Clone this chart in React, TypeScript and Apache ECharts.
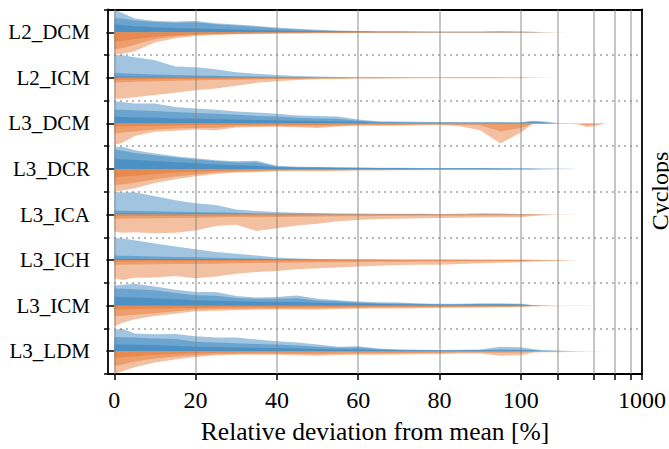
import React, { useEffect, useRef } from "react";
import * as echarts from "echarts";

// x sample positions (relative deviation from mean, %)
const XS = [0, 2, 5, 10, 15, 20, 25, 30, 35, 40, 45, 50, 55, 60, 65, 70, 75, 80, 85, 90, 95, 100, 125, 150, 200, 250, 300, 350, 400, 500];

const ROWS = ["L2_DCM", "L2_ICM", "L3_DCM", "L3_DCR", "L3_ICA", "L3_ICH", "L3_ICM", "L3_LDM"];

const X_LABELS = [0, 20, 40, 60, 80, 100, 1000];
const X_MINOR = [200, 400, 600, 800];
const GRID_X = [0, 20, 40, 60, 80, 100, 200, 400, 600, 800];

// heights in half-row units: [outer, middle, inner]
const L2_DCM_BLUE = [
  [1.0, 0.85, 0.6, 0.5, 0.47, 0.49, 0.4, 0.34, 0.28, 0.21, 0.15, 0.11, 0.08, 0.06, 0.05, 0.04, 0.035, 0.03, 0.03, 0.035, 0.045, 0.035, 0.02, 0.01, 0.005, 0, 0, 0, 0, 0],
  [0.62, 0.6, 0.52, 0.45, 0.42, 0.44, 0.35, 0.3, 0.24, 0.17, 0.12, 0.08, 0.06, 0.045, 0.035, 0.03, 0.025, 0.02, 0.02, 0.025, 0.03, 0.025, 0.012, 0.005, 0, 0, 0, 0, 0, 0],
  [0.35, 0.32, 0.27, 0.22, 0.19, 0.17, 0.14, 0.12, 0.1, 0.08, 0.06, 0.045, 0.035, 0.03, 0.025, 0.02, 0.018, 0.015, 0.015, 0.015, 0.015, 0.012, 0.008, 0.004, 0, 0, 0, 0, 0, 0],
];
const L2_DCM_ORANGE = [
  [0.97, 0.95, 0.83, 0.45, 0.26, 0.16, 0.12, 0.09, 0.075, 0.06, 0.05, 0.045, 0.04, 0.035, 0.03, 0.03, 0.025, 0.025, 0.02, 0.02, 0.02, 0.02, 0.015, 0.01, 0.008, 0.004, 0, 0, 0, 0],
  [0.75, 0.7, 0.55, 0.3, 0.19, 0.12, 0.09, 0.07, 0.055, 0.045, 0.04, 0.035, 0.03, 0.025, 0.02, 0.02, 0.018, 0.015, 0.015, 0.015, 0.015, 0.015, 0.01, 0.005, 0, 0, 0, 0, 0, 0],
  [0.42, 0.38, 0.3, 0.2, 0.13, 0.09, 0.065, 0.05, 0.04, 0.035, 0.03, 0.025, 0.02, 0.018, 0.015, 0.015, 0.012, 0.01, 0.01, 0.01, 0.01, 0.01, 0.005, 0, 0, 0, 0, 0, 0, 0],
];
const L2_ICM_BLUE = [
  [1.0, 0.99, 0.9, 0.77, 0.5, 0.47, 0.38, 0.25, 0.18, 0.12, 0.08, 0.055, 0.04, 0.03, 0.025, 0.02, 0.02, 0.015, 0.015, 0.015, 0.015, 0.012, 0.008, 0.005, 0, 0, 0, 0, 0, 0],
  [0.22, 0.2, 0.18, 0.15, 0.12, 0.1, 0.09, 0.07, 0.06, 0.05, 0.04, 0.03, 0.025, 0.02, 0.015, 0.015, 0.012, 0.01, 0.01, 0.01, 0.01, 0.008, 0.005, 0, 0, 0, 0, 0, 0, 0],
  [0.07, 0.07, 0.06, 0.06, 0.05, 0.05, 0.045, 0.04, 0.035, 0.03, 0.025, 0.02, 0.015, 0.012, 0.01, 0.01, 0.008, 0.006, 0.005, 0.005, 0.005, 0.004, 0, 0, 0, 0, 0, 0, 0, 0],
];
const L2_ICM_ORANGE = [
  [0.92, 0.92, 0.85, 0.75, 0.65, 0.55, 0.47, 0.35, 0.22, 0.15, 0.09, 0.05, 0.04, 0.03, 0.025, 0.02, 0.02, 0.02, 0.02, 0.02, 0.02, 0.015, 0.01, 0.005, 0, 0, 0, 0, 0, 0],
  [0.2, 0.19, 0.17, 0.15, 0.13, 0.11, 0.1, 0.08, 0.06, 0.05, 0.04, 0.03, 0.025, 0.02, 0.015, 0.015, 0.012, 0.01, 0.01, 0.01, 0.01, 0.008, 0.005, 0, 0, 0, 0, 0, 0, 0],
  [0.08, 0.08, 0.07, 0.06, 0.05, 0.05, 0.045, 0.04, 0.035, 0.03, 0.025, 0.02, 0.015, 0.012, 0.01, 0.01, 0.008, 0.006, 0.005, 0.005, 0.005, 0.004, 0, 0, 0, 0, 0, 0, 0, 0],
];
const L3_DCM_BLUE = [
  [0.97, 0.94, 0.87, 0.87, 0.72, 0.65, 0.6, 0.52, 0.48, 0.42, 0.35, 0.33, 0.3, 0.17, 0.09, 0.08, 0.07, 0.06, 0.055, 0.05, 0.05, 0.05, 0.12, 0.1, 0.02, 0.005, 0, 0, 0, 0],
  [0.6, 0.6, 0.58, 0.55, 0.5, 0.46, 0.42, 0.38, 0.33, 0.3, 0.25, 0.22, 0.2, 0.12, 0.06, 0.05, 0.045, 0.04, 0.035, 0.035, 0.035, 0.035, 0.08, 0.06, 0.01, 0, 0, 0, 0, 0],
  [0.3, 0.28, 0.27, 0.25, 0.22, 0.2, 0.18, 0.17, 0.15, 0.14, 0.12, 0.11, 0.09, 0.07, 0.04, 0.035, 0.03, 0.025, 0.025, 0.025, 0.025, 0.02, 0.04, 0.03, 0, 0, 0, 0, 0, 0],
];
const L3_DCM_ORANGE = [
  [0.95, 0.85, 0.55, 0.37, 0.32, 0.27, 0.3, 0.18, 0.16, 0.15, 0.17, 0.2, 0.14, 0.1, 0.11, 0.1, 0.08, 0.07, 0.12, 0.3, 0.88, 0.4, 0.03, 0.02, 0.01, 0.01, 0.05, 0.16, 0.12, 0],
  [0.45, 0.4, 0.35, 0.27, 0.22, 0.2, 0.2, 0.13, 0.12, 0.11, 0.12, 0.14, 0.1, 0.07, 0.07, 0.065, 0.06, 0.05, 0.07, 0.08, 0.35, 0.2, 0.015, 0.01, 0, 0, 0.02, 0.08, 0.05, 0],
  [0.15, 0.14, 0.13, 0.1, 0.09, 0.08, 0.08, 0.07, 0.06, 0.06, 0.06, 0.07, 0.05, 0.04, 0.04, 0.035, 0.03, 0.03, 0.03, 0.03, 0.04, 0.03, 0.01, 0, 0, 0, 0, 0, 0, 0],
];
const L3_DCR_BLUE = [
  [0.97, 0.98, 0.82, 0.68, 0.56, 0.47, 0.38, 0.34, 0.36, 0.14, 0.1, 0.09, 0.08, 0.06, 0.05, 0.05, 0.045, 0.04, 0.04, 0.04, 0.035, 0.03, 0.02, 0.015, 0.01, 0.005, 0, 0, 0, 0],
  [0.85, 0.8, 0.7, 0.6, 0.5, 0.42, 0.35, 0.28, 0.3, 0.11, 0.08, 0.07, 0.06, 0.05, 0.04, 0.04, 0.035, 0.03, 0.03, 0.03, 0.025, 0.02, 0.015, 0.01, 0.005, 0, 0, 0, 0, 0],
  [0.45, 0.42, 0.4, 0.35, 0.3, 0.25, 0.2, 0.16, 0.14, 0.08, 0.06, 0.05, 0.045, 0.04, 0.03, 0.03, 0.025, 0.02, 0.02, 0.02, 0.02, 0.015, 0.01, 0.005, 0, 0, 0, 0, 0, 0],
];
const L3_DCR_ORANGE = [
  [0.99, 0.95, 0.85, 0.62, 0.45, 0.32, 0.22, 0.16, 0.14, 0.1, 0.09, 0.1, 0.09, 0.07, 0.065, 0.06, 0.06, 0.05, 0.05, 0.045, 0.04, 0.035, 0.03, 0.02, 0.015, 0.01, 0.005, 0, 0, 0],
  [0.7, 0.68, 0.6, 0.45, 0.33, 0.24, 0.16, 0.12, 0.1, 0.08, 0.07, 0.07, 0.06, 0.05, 0.045, 0.04, 0.04, 0.035, 0.035, 0.03, 0.03, 0.025, 0.02, 0.01, 0.005, 0, 0, 0, 0, 0],
  [0.35, 0.33, 0.3, 0.22, 0.16, 0.12, 0.09, 0.07, 0.06, 0.05, 0.05, 0.05, 0.04, 0.035, 0.03, 0.03, 0.025, 0.025, 0.02, 0.02, 0.02, 0.015, 0.01, 0.005, 0, 0, 0, 0, 0, 0],
];
const L3_ICA_BLUE = [
  [0.99, 0.97, 0.98, 0.8, 0.63, 0.5, 0.42, 0.22, 0.15, 0.11, 0.08, 0.07, 0.05, 0.04, 0.035, 0.03, 0.03, 0.025, 0.03, 0.06, 0.04, 0.025, 0.015, 0.01, 0.005, 0, 0, 0, 0, 0],
  [0.18, 0.17, 0.16, 0.14, 0.12, 0.11, 0.1, 0.08, 0.06, 0.05, 0.04, 0.035, 0.03, 0.025, 0.02, 0.02, 0.018, 0.015, 0.015, 0.02, 0.02, 0.015, 0.01, 0.005, 0, 0, 0, 0, 0, 0],
  [0.06, 0.06, 0.055, 0.05, 0.045, 0.04, 0.035, 0.03, 0.025, 0.02, 0.018, 0.015, 0.012, 0.01, 0.01, 0.008, 0.008, 0.006, 0.006, 0.006, 0.006, 0.005, 0, 0, 0, 0, 0, 0, 0, 0],
];
const L3_ICA_ORANGE = [
  [0.75, 0.8, 0.78, 0.82, 0.8, 0.7, 0.5, 0.45, 0.72, 0.6, 0.48, 0.4, 0.3, 0.24, 0.2, 0.18, 0.16, 0.15, 0.14, 0.13, 0.12, 0.12, 0.06, 0.04, 0.015, 0.005, 0, 0, 0, 0],
  [0.18, 0.18, 0.17, 0.16, 0.15, 0.14, 0.12, 0.11, 0.12, 0.11, 0.1, 0.09, 0.08, 0.07, 0.06, 0.06, 0.05, 0.05, 0.05, 0.045, 0.04, 0.04, 0.02, 0.01, 0, 0, 0, 0, 0, 0],
  [0.07, 0.07, 0.065, 0.06, 0.06, 0.055, 0.05, 0.045, 0.045, 0.04, 0.04, 0.035, 0.03, 0.03, 0.025, 0.025, 0.02, 0.02, 0.02, 0.02, 0.018, 0.015, 0.008, 0, 0, 0, 0, 0, 0, 0],
];
const L3_ICH_BLUE = [
  [0.97, 0.95, 0.87, 0.73, 0.6, 0.48, 0.36, 0.28, 0.2, 0.11, 0.07, 0.05, 0.04, 0.04, 0.035, 0.03, 0.03, 0.025, 0.025, 0.02, 0.02, 0.02, 0.01, 0.005, 0, 0, 0, 0, 0, 0],
  [0.2, 0.19, 0.18, 0.16, 0.14, 0.12, 0.1, 0.08, 0.07, 0.05, 0.04, 0.03, 0.025, 0.02, 0.02, 0.018, 0.015, 0.012, 0.012, 0.01, 0.01, 0.01, 0.005, 0, 0, 0, 0, 0, 0, 0],
  [0.06, 0.06, 0.055, 0.05, 0.045, 0.04, 0.035, 0.03, 0.025, 0.02, 0.015, 0.012, 0.01, 0.01, 0.008, 0.008, 0.006, 0.005, 0.005, 0.005, 0.005, 0.004, 0, 0, 0, 0, 0, 0, 0, 0],
];
const L3_ICH_ORANGE = [
  [0.8, 0.87, 0.78, 0.76, 0.7, 0.8, 0.72, 0.6, 0.52, 0.48, 0.4, 0.36, 0.33, 0.28, 0.25, 0.22, 0.2, 0.2, 0.17, 0.14, 0.12, 0.09, 0.06, 0.05, 0.04, 0.02, 0, 0, 0, 0],
  [0.2, 0.2, 0.19, 0.18, 0.17, 0.17, 0.16, 0.14, 0.13, 0.12, 0.11, 0.1, 0.09, 0.08, 0.07, 0.07, 0.06, 0.06, 0.055, 0.05, 0.045, 0.04, 0.03, 0.02, 0.01, 0, 0, 0, 0, 0],
  [0.07, 0.07, 0.065, 0.06, 0.06, 0.055, 0.05, 0.05, 0.045, 0.04, 0.04, 0.035, 0.03, 0.03, 0.025, 0.025, 0.02, 0.02, 0.02, 0.018, 0.016, 0.014, 0.01, 0.005, 0, 0, 0, 0, 0, 0],
];
const L3_ICM_BLUE = [
  [0.89, 0.92, 0.96, 0.84, 0.7, 0.6, 0.6, 0.42, 0.36, 0.38, 0.45, 0.3, 0.24, 0.18, 0.15, 0.14, 0.1, 0.08, 0.08, 0.1, 0.1, 0.08, 0.03, 0.01, 0, 0, 0, 0, 0, 0],
  [0.75, 0.74, 0.72, 0.68, 0.56, 0.46, 0.44, 0.34, 0.3, 0.3, 0.33, 0.23, 0.19, 0.14, 0.11, 0.1, 0.08, 0.065, 0.065, 0.08, 0.08, 0.06, 0.02, 0.005, 0, 0, 0, 0, 0, 0],
  [0.38, 0.37, 0.36, 0.33, 0.28, 0.24, 0.22, 0.19, 0.17, 0.16, 0.16, 0.13, 0.11, 0.09, 0.075, 0.065, 0.055, 0.045, 0.045, 0.05, 0.05, 0.04, 0.01, 0, 0, 0, 0, 0, 0, 0],
];
const L3_ICM_ORANGE = [
  [0.9, 0.75, 0.6, 0.45, 0.35, 0.25, 0.22, 0.2, 0.18, 0.17, 0.17, 0.18, 0.15, 0.14, 0.13, 0.12, 0.11, 0.1, 0.09, 0.08, 0.07, 0.06, 0.04, 0.03, 0.03, 0.02, 0.02, 0.01, 0.005, 0],
  [0.47, 0.44, 0.4, 0.33, 0.25, 0.17, 0.15, 0.14, 0.13, 0.12, 0.12, 0.12, 0.1, 0.09, 0.08, 0.08, 0.07, 0.065, 0.06, 0.055, 0.05, 0.04, 0.02, 0.01, 0, 0, 0, 0, 0, 0],
  [0.17, 0.16, 0.15, 0.13, 0.11, 0.09, 0.08, 0.075, 0.07, 0.065, 0.06, 0.06, 0.055, 0.05, 0.045, 0.04, 0.035, 0.03, 0.03, 0.03, 0.025, 0.02, 0.01, 0, 0, 0, 0, 0, 0, 0],
];
const L3_LDM_BLUE = [
  [0.95, 0.99, 0.78, 0.74, 0.76, 0.66, 0.6, 0.6, 0.51, 0.44, 0.38, 0.3, 0.2, 0.22, 0.12, 0.08, 0.06, 0.05, 0.06, 0.07, 0.2, 0.17, 0.1, 0.05, 0.03, 0.01, 0, 0, 0, 0],
  [0.62, 0.61, 0.6, 0.56, 0.54, 0.42, 0.38, 0.35, 0.32, 0.29, 0.25, 0.2, 0.15, 0.16, 0.09, 0.06, 0.05, 0.04, 0.045, 0.05, 0.08, 0.08, 0.05, 0.02, 0.01, 0, 0, 0, 0, 0],
  [0.3, 0.29, 0.28, 0.26, 0.24, 0.2, 0.18, 0.16, 0.15, 0.14, 0.12, 0.1, 0.08, 0.08, 0.05, 0.04, 0.03, 0.03, 0.03, 0.03, 0.03, 0.03, 0.02, 0.01, 0, 0, 0, 0, 0, 0],
];
const L3_LDM_ORANGE = [
  [1.0, 0.88, 0.7, 0.5, 0.36, 0.25, 0.18, 0.16, 0.15, 0.15, 0.18, 0.2, 0.17, 0.15, 0.15, 0.14, 0.13, 0.13, 0.1, 0.1, 0.2, 0.18, 0.07, 0.05, 0.04, 0.03, 0.02, 0.015, 0.01, 0],
  [0.65, 0.58, 0.45, 0.32, 0.24, 0.18, 0.13, 0.12, 0.11, 0.11, 0.12, 0.13, 0.11, 0.1, 0.1, 0.09, 0.08, 0.08, 0.06, 0.06, 0.07, 0.06, 0.03, 0.02, 0.01, 0, 0, 0, 0, 0],
  [0.3, 0.27, 0.22, 0.16, 0.12, 0.09, 0.07, 0.06, 0.06, 0.06, 0.06, 0.06, 0.05, 0.05, 0.045, 0.04, 0.04, 0.035, 0.03, 0.03, 0.03, 0.025, 0.01, 0, 0, 0, 0, 0, 0, 0],
];

const BLUE = [L2_DCM_BLUE, L2_ICM_BLUE, L3_DCM_BLUE, L3_DCR_BLUE, L3_ICA_BLUE, L3_ICH_BLUE, L3_ICM_BLUE, L3_LDM_BLUE];
const ORANGE = [L2_DCM_ORANGE, L2_ICM_ORANGE, L3_DCM_ORANGE, L3_DCR_ORANGE, L3_ICA_ORANGE, L3_ICH_ORANGE, L3_ICM_ORANGE, L3_LDM_ORANGE];

// piecewise axis: linear 0..100, then logarithmic 100..1000
const LOG_SPAN = 29.8;
const T = (x: number) => (x <= 100 ? x : 100 + LOG_SPAN * Math.log10(x / 100));

const FONT = "Liberation Serif";
const BLUE_RGB = "rgb(36,120,184)";
const ORANGE_RGB = "rgb(228,112,40)";
const LAYER_ALPHA = 0.43;
const SPINE = { show: true, onZero: false, lineStyle: { color: "#000", width: 1.8 } };

function buildOption() {
  const series: any[] = [];
  ROWS.forEach((_, i) => {
    const c = 2 * (ROWS.length - 1 - i);
    [BLUE[i], ORANGE[i]].forEach((layers, side) => {
      const sign = side === 0 ? 1 : -1;
      layers.forEach((h) => {
        series.push({
          type: "line",
          xAxisIndex: 0,
          yAxisIndex: 0,
          silent: true,
          symbol: "none",
          showSymbol: false,
          lineStyle: { width: 0 },
          areaStyle: { color: side === 0 ? BLUE_RGB : ORANGE_RGB, opacity: LAYER_ALPHA, origin: c },
          data: XS.map((x, k) => [T(x), c + sign * h[k]]),
          z: 2,
        });
      });
    });
  });
  // vertical grid lines
  series.push({
    type: "line",
    xAxisIndex: 0,
    yAxisIndex: 0,
    silent: true,
    symbol: "none",
    lineStyle: { width: 0 },
    data: [],
    z: 5,
    markLine: {
      silent: true,
      symbol: ["none", "none"],
      label: { show: false },
      lineStyle: { color: "rgba(128,128,128,0.45)", width: 2, type: "solid" },
      data: GRID_X.map((v) => ({ xAxis: T(v) })),
    },
  });

  const labelT = X_LABELS.map(T);
  const tickT = X_LABELS.concat(X_MINOR).map(T);

  return {
    animation: false,
    grid: { left: 108, right: 26.5, top: 9.5, bottom: 73, show: false },
    xAxis: [
      {
        type: "value",
        min: -1.55,
        max: T(1000),
        position: "bottom",
        name: "Relative deviation from mean [%]",
        nameLocation: "middle",
        nameGap: 44,
        nameTextStyle: { fontFamily: FONT, fontSize: 25.5, color: "#000" },
        axisLine: SPINE,
        axisTick: { show: true, length: 6, lineStyle: { color: "#000", width: 1.5 }, customValues: tickT },
        axisLabel: {
          fontFamily: FONT,
          fontSize: 24,
          color: "#000",
          margin: 14,
          customValues: labelT,
          formatter: (v: number) => {
            let best = 0;
            labelT.forEach((t, k) => {
              if (Math.abs(t - v) < Math.abs(labelT[best] - v)) best = k;
            });
            return String(X_LABELS[best]);
          },
        },
        splitLine: { show: false },
      },
      {
        type: "value",
        min: -1.55,
        max: T(1000),
        position: "top",
        axisLine: SPINE,
        axisTick: { show: false },
        axisLabel: { show: false },
        splitLine: { show: false },
      },
    ],
    yAxis: [
      {
        type: "value",
        min: -1,
        max: 15,
        interval: 2,
        position: "left",
        axisLine: SPINE,
        axisTick: { show: true, length: 4, lineStyle: { color: "#000", width: 1.5 } },
        axisLabel: { show: false },
        splitLine: { show: true, lineStyle: { color: "#b8b8b8", width: 2, type: [2, 4] } },
      },
      {
        type: "category",
        data: ROWS,
        inverse: true,
        position: "left",
        boundaryGap: true,
        axisLine: { show: false },
        axisTick: { show: true, alignWithLabel: true, length: 8, lineStyle: { color: "#000", width: 1.5 } },
        axisLabel: { fontFamily: FONT, fontSize: 21, color: "#000", margin: 18 },
        splitLine: { show: false },
      },
      {
        type: "value",
        min: -1,
        max: 15,
        position: "right",
        axisLine: SPINE,
        axisTick: { show: false },
        axisLabel: { show: false },
        splitLine: { show: false },
      },
    ],
    graphic: [
      {
        type: "text",
        x: 659.5,
        y: 191,
        rotation: Math.PI / 2,
        style: { text: "Cyclops", fontFamily: FONT, fontSize: 24, fill: "#000", align: "center", verticalAlign: "middle" },
      },
    ],
    series,
  };
}

export default function App() {
  const ref = useRef<HTMLDivElement>(null);
  useEffect(() => {
    if (!ref.current) return;
    const chart = echarts.init(ref.current, null, { renderer: "svg" });
    chart.setOption(buildOption() as any);
    return () => chart.dispose();
  }, []);
  return <div ref={ref} style={{ position: "fixed", left: 0, top: 0, width: 669, height: 449, background: "#fff" }} />;
}
